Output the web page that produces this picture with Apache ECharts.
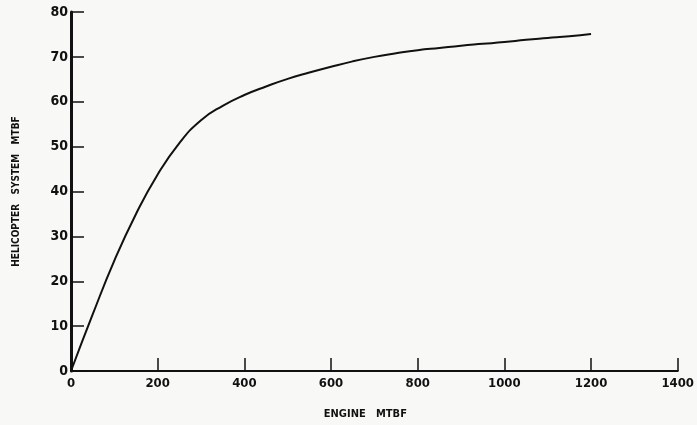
<!DOCTYPE html>
<html>
<head>
<meta charset="utf-8">
<script src="https://cdn.jsdelivr.net/npm/echarts@6/dist/echarts.min.js"></script>
<style>
html,body{margin:0;padding:0;background:#f8f8f6;}
#chart{width:697px;height:425px;}
</style>
</head>
<body>
<div id="chart"></div>
<script>
var engineMTBF = [0, 50, 100, 150, 200, 250, 300, 350, 400, 450, 500, 550, 600, 650, 700, 750, 800, 850, 900, 950, 1000, 1050, 1100, 1150, 1200];
var helicopterMTBF = [0, 12.6, 24.6, 35, 43.8, 50.8, 55.9, 59.1, 61.5, 63.4, 65.1, 66.5, 67.8, 69, 70, 70.8, 71.5, 72, 72.5, 72.9, 73.3, 73.8, 74.2, 74.6, 75.1];
var xTicks = [0, 200, 400, 600, 800, 1000, 1200, 1400];
var yTicks = [0, 10, 20, 30, 40, 50, 60, 70, 80];

var fontFam = '"Liberation Sans Narrow", "DejaVu Sans Condensed", sans-serif';
var chart = echarts.init(document.getElementById('chart'));
chart.setOption({
  backgroundColor: '#f8f8f6',
  animation: false,
  grid: {left: 71, right: 15, top: 12, bottom: 53, containLabel: false},
  xAxis: {
    type: 'value', min: 0, max: 1400, interval: 200,
    name: 'ENGINE   MTBF', nameLocation: 'middle', nameGap: 38,
    nameTextStyle: {color: '#111', fontFamily: fontFam, fontWeight: 'bold', fontSize: 11, padding: [0, 18, 0, 0]},
    axisLine: {show: true, onZero: false, lineStyle: {color: '#111', width: 2}},
    axisTick: {show: true, inside: true, length: 13, lineStyle: {color: '#111', width: 1.5}},
    axisLabel: {color: '#111', fontFamily: fontFam, fontWeight: 'bold', fontSize: 13, margin: 6,
      formatter: function (v) { return xTicks.indexOf(v) >= 0 ? String(v) : ''; }},
    splitLine: {show: false}
  },
  yAxis: {
    type: 'value', min: 0, max: 80, interval: 10,
    name: 'HELICOPTER   SYSTEM   MTBF', nameLocation: 'middle', nameGap: 50,
    nameTextStyle: {color: '#111', fontFamily: fontFam, fontWeight: 'bold', fontSize: 10},
    axisLine: {show: true, onZero: false, lineStyle: {color: '#111', width: 3}},
    axisTick: {show: true, inside: true, length: 13, lineStyle: {color: '#111', width: 1.5}},
    axisLabel: {color: '#111', fontFamily: fontFam, fontWeight: 'bold', fontSize: 14, margin: 3,
      formatter: function (v) { return yTicks.indexOf(v) >= 0 ? String(v) : ''; }},
    splitLine: {show: false}
  },
  series: [{
    type: 'line',
    data: engineMTBF.map(function (x, i) { return [x, helicopterMTBF[i]]; }),
    smooth: 0.5,
    showSymbol: false,
    lineStyle: {color: '#111', width: 2}
  }]
});
</script>
</body>
</html>
